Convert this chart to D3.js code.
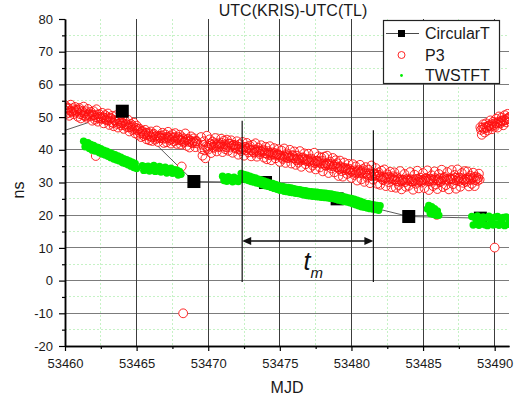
<!DOCTYPE html>
<html>
<head>
<meta charset="utf-8">
<script src="https://cdn.jsdelivr.net/npm/d3@7"></script>
<style>
  html, body { margin: 0; padding: 0; background: #fff; }
  svg { display: block; font-family: Arial, "Liberation Sans", sans-serif; }
</style>
</head>
<body>
<svg id="chart" width="516" height="400"></svg>
<script>
// ---- Data (MJD vs ns) ----
const sampleStep = 0.1; // spacing of the dense P3 / TWSTFT samples, in days

// Circular T monthly link values
const circularMjd = [53459, 53464, 53469, 53474, 53479, 53484, 53489];
const circularNs  = [44.5, 51.8, 30.3, 30.0, 25.0, 19.6, 19.1];

// P3 (GPS code) results, three runs; each run has a second track
// offset by half a sample step
const p3StartA = 53460.0;
const p3A = [
  53.6, 51.0, 52.9, 50.4, 53.8, 51.7, 50.9, 53.1, 52.2, 50.1,
  52.8, 49.6, 51.9, 53.2, 50.3, 49.8, 52.5, 50.7, 51.6, 48.9,
  51.8, 49.2, 52.4, 48.6, 50.9, 49.7, 51.3, 48.1, 50.6, 49.0,
  51.1, 47.6, 49.8, 50.4, 47.2, 48.9, 50.6, 46.8, 49.3, 47.5,
  49.9, 46.4, 48.7, 47.0, 49.2, 45.6, 47.9, 46.1, 48.3, 45.0,
  47.4, 44.6, 46.5, 43.9, 45.8, 44.2, 46.1, 43.2, 45.3, 42.9,
  45.6, 42.7, 44.9, 43.1, 45.9, 42.4, 44.3, 43.6, 45.2, 42.1,
  44.7, 42.3, 45.5, 43.0, 41.9, 44.8, 42.6, 45.1, 41.8, 43.9,
  44.6, 41.6, 43.8, 42.2, 45.0, 41.2, 43.4, 40.7, 44.1, 42.0,
  43.5, 40.8, 42.6
];
const p3A2 = [
  51.9, 52.6, 51.3, 52.0, 51.6, 52.7, 52.1, 51.4, 51.8, 52.3,
  50.9, 51.5, 50.6, 51.2, 51.8, 50.5, 51.0, 50.2, 50.9, 50.6,
  50.5, 49.9, 50.8, 49.6, 50.1, 49.4, 50.0, 49.7, 49.3, 49.9,
  49.0, 49.6, 48.5, 48.2, 49.1, 48.6, 47.9, 48.8, 48.1, 48.4,
  48.2, 47.5, 47.9, 47.7, 46.9, 47.4, 46.8, 47.2, 46.3, 46.7,
  45.9, 46.3, 45.1, 45.6, 45.0, 44.7, 45.2, 44.4, 44.8, 44.1,
  43.8, 44.5, 43.9, 44.2, 43.5, 44.0, 43.7, 44.4, 43.4, 43.8,
  43.4, 44.0, 43.6, 44.2, 43.3, 43.7, 43.9, 43.0, 43.5, 42.9,
  43.1, 42.7, 43.3, 42.5, 42.9, 43.2, 42.4, 42.8, 42.2, 42.6,
  42.1, 42.7, 41.9
];
const p3StartB = 53469.5;
const p3B = [
  43.9, 38.2, 42.6, 37.4, 44.3,
  40.1, 43.2, 39.0, 42.5, 40.6, 43.6, 39.5, 42.0, 41.1, 43.4,
  39.3, 42.8, 40.2, 43.1, 39.7, 41.9, 42.9, 39.1, 41.5, 40.4,
  42.6, 38.5, 41.7, 39.6, 42.4, 38.2, 40.9, 42.1, 39.2, 41.3,
  38.0, 41.5, 39.1, 42.0, 37.9, 40.6, 38.7, 41.4, 39.8, 37.6,
  40.9, 37.1, 39.6, 41.1, 36.8, 39.2, 40.5, 37.4, 38.6, 40.2,
  36.3, 39.8, 37.2, 40.4, 36.0, 38.9, 37.5, 40.0, 35.8, 38.3,
  39.5, 35.4, 38.2, 36.1, 39.6, 34.8, 37.7, 38.9, 35.6, 37.0,
  38.8, 34.5, 37.3, 35.2, 39.1, 34.0, 36.7, 38.0, 34.6, 37.6,
  33.4, 37.9, 35.1, 38.2, 32.9, 36.4, 34.3, 37.5, 33.1, 36.8,
  35.9, 32.0, 36.7, 33.5, 31.8, 36.1, 34.2, 32.6, 35.7, 33.0,
  31.4, 35.6, 32.3, 34.9, 30.6, 33.8, 35.4, 31.0, 34.1, 30.2,
  34.7, 31.5, 33.9, 29.8, 35.2, 30.9, 32.8, 34.4, 29.6, 33.1,
  29.3, 33.6, 30.7, 34.0, 28.9, 32.5, 30.1, 33.3, 28.6, 31.9,
  33.1, 28.4, 31.6, 29.2, 33.5, 27.9, 30.8, 32.6, 28.7, 31.2,
  29.0, 33.2, 30.3, 27.8, 32.4, 29.6, 33.6, 28.2, 31.5, 30.0,
  32.9, 28.3, 31.4, 33.7, 27.7, 30.5, 32.2, 28.9, 33.4, 29.4,
  28.0, 32.6, 30.1, 33.9, 28.6, 31.7, 29.2, 33.2, 27.9, 31.0,
  33.8, 29.5, 32.3, 28.1, 34.0, 30.4, 28.7, 32.9, 29.9, 33.5,
  30.2, 33.4, 28.8, 32.1, 29.6, 33.0, 28.9, 31.8, 30.5, 32.7
];
const p3B2 = [
  40.2, 41.5, 39.8, 41.0, 40.6,
  41.2, 41.9, 41.5, 40.9, 42.0, 41.3, 41.7, 40.8, 41.6, 42.1,
  41.0, 41.6, 40.8, 41.4, 41.9, 40.7, 41.2, 41.5, 40.9, 41.3,
  40.3, 40.9, 40.1, 40.6, 40.2, 40.8, 39.9, 40.4, 40.7, 40.0,
  39.8, 39.3, 40.0, 39.5, 39.9, 39.2, 39.7, 39.4, 40.1, 39.0,
  38.9, 38.5, 39.1, 38.3, 38.8, 38.6, 39.0, 38.2, 38.7, 38.4,
  38.2, 37.6, 38.1, 37.8, 38.4, 37.5, 38.0, 37.7, 38.3, 37.4,
  37.3, 36.8, 37.4, 37.0, 36.7, 37.5, 36.9, 37.2, 36.6, 37.1,
  36.5, 36.1, 36.8, 36.3, 35.9, 36.6, 36.2, 36.4, 35.8, 36.7,
  35.8, 35.3, 35.9, 35.4, 35.7, 35.1, 35.6, 35.0, 35.5, 34.8,
  34.6, 34.1, 34.9, 34.3, 34.5, 33.8, 34.4, 33.9, 34.2, 33.6,
  33.5, 33.0, 33.7, 32.9, 33.4, 32.8, 33.2, 33.6, 32.7, 33.1,
  32.6, 32.1, 32.8, 32.3, 31.9, 32.7, 32.2, 32.5, 31.8, 32.3,
  31.6, 31.1, 31.8, 31.3, 31.5, 30.9, 31.7, 31.2, 31.4, 30.8,
  30.9, 30.4, 31.0, 30.2, 30.7, 30.5, 30.9, 30.1, 30.6, 30.8,
  30.5, 31.0, 30.3, 30.9, 30.6, 31.1, 30.2, 30.8, 30.4, 30.7,
  31.0, 30.6, 31.2, 30.4, 30.9, 31.1, 30.5, 30.8, 31.3, 30.7,
  30.7, 31.2, 30.5, 31.0, 31.4, 30.6, 31.1, 30.8, 31.3, 30.9,
  31.2, 30.8, 31.4, 30.6, 31.1, 31.5, 30.9, 31.3, 30.7, 31.0,
  31.3, 30.9, 31.5, 30.8, 31.2, 31.6, 30.7, 31.1, 31.4, 30.9
];
const p3StartC = 53489.0;
const p3C = [
  46.9, 44.6, 47.8, 45.3, 48.1, 45.9, 47.2, 49.0, 46.3, 48.6,
  47.0, 49.5, 46.8, 50.2, 48.1, 49.9, 47.5, 50.6, 48.4, 51.0,
  49.3
];
const p3C2 = [
  46.1, 46.8, 46.4, 47.0, 46.7, 47.3, 47.6, 47.1, 47.9, 47.5,
  48.2, 48.0, 48.6, 48.3, 48.9, 48.7, 49.2, 49.0, 49.5, 49.8,
  50.1
];
// isolated P3 points away from the main band
const p3OutlierMjd = [53462.15, 53462.25, 53468.15, 53468.25, 53485.95, 53490.0];
const p3OutlierNs  = [38.1, 40.0, 34.9, -10.0, 20.1, 10.1];

// TWSTFT sessions
const twStarts = [53461.3, 53465.4, 53471.0, 53472.3, 53475.2, 53485.3, 53488.4];
const twA = [
  42.6, 40.9, 41.9, 42.2, 40.4, 41.6, 39.9, 41.3, 39.6, 40.8,
  40.7, 39.1, 40.3, 38.7, 39.9, 38.4, 39.6, 38.0, 39.2, 37.6,
  38.8, 37.2, 38.5, 36.9, 38.1, 36.6, 37.7, 36.1, 37.3, 35.8,
  37.0, 35.4, 36.6, 35.0, 36.2, 34.6, 35.8, 34.3
];
const twB = [
  35.1, 33.7, 34.8, 33.9, 35.0, 33.5, 34.6, 33.8, 35.2, 33.4,
  34.5, 33.6, 34.9, 33.2, 34.3, 33.5, 34.7, 32.9, 34.1, 33.3,
  34.4, 32.8, 33.9, 33.0, 33.8, 32.3, 33.4, 32.5
];
const twC = [31.9, 30.6, 31.5, 30.4, 31.8, 30.7, 31.3, 30.2, 31.6, 30.5, 31.2, 30.3, 31.4];
const twD = [
  32.8, 31.2, 32.5, 30.9, 32.2, 30.6, 31.9, 30.3, 31.6, 30.1,
  31.4, 29.8, 31.0, 29.6, 30.8, 29.3, 30.5, 29.0, 30.2, 28.8,
  29.9, 28.5, 29.7, 28.2, 29.4, 27.9, 29.1, 27.6
];
const twE = [
  28.8, 27.3, 28.6, 27.2, 28.5, 27.0, 28.3, 26.9, 28.1, 26.7,
  27.9, 26.6, 27.8, 26.4, 27.6, 26.2, 27.5, 26.0, 27.3, 25.9,
  27.2, 25.8, 27.1, 25.7, 27.0, 25.6, 26.9, 25.5, 26.8, 25.4,
  26.7, 25.3, 26.6, 25.2, 26.5, 25.1, 26.3, 24.9, 26.1, 24.6,
  25.9, 24.4, 25.7, 24.2, 25.5, 24.0, 25.3, 23.8, 25.1, 23.5,
  24.9, 23.2, 24.6, 22.9, 24.3, 22.6, 24.0, 22.4, 23.6, 22.2,
  23.5, 22.0, 23.3, 21.9, 23.1, 21.7, 23.0, 21.5, 22.9
];
const twF = [21.9, 23.0, 20.5, 22.6, 20.3, 22.0, 20.0, 21.3, 20.0];
const twG = [
  19.6, 17.0, 19.3, 17.4, 19.8, 16.9, 18.9, 17.6, 19.5, 17.1,
  19.2, 16.8, 19.7, 17.5, 18.8, 17.0, 19.4, 17.3, 19.6, 16.9,
  19.0, 17.6, 19.3, 16.8, 19.5, 17.2, 18.9
];

// Axis ticks
const xMajorTicks = [53460, 53465, 53470, 53475, 53480, 53485, 53490];
const xMinorTicks = [53462.5, 53467.5, 53472.5, 53477.5, 53482.5, 53487.5];
const yMajorTicks = [-20, -10, 0, 10, 20, 30, 40, 50, 60, 70, 80];
const yMinorTicks = [-15, -5, 5, 15, 25, 35, 45, 55, 65, 75];

// Measurement-interval marker (t_m)
const tmStartMjd = 53472.37, tmEndMjd = 53481.53;
const tmStartTopNs = 48.9, tmEndTopNs = 46.0, tmBaseNs = -0.4;
const tmArrowNs = 12.1;
const tmLabelMjd = 53476.65, tmLabelNs = 3.3;

// ---- Helpers ----
function expand(start, vals) {
  return vals.map((v, i) => ({ mjd: +(start + i * sampleStep).toFixed(3), ns: v }));
}
const half = sampleStep / 2;

const p3Points = [
  ...expand(p3StartA, p3A), ...expand(p3StartA + half, p3A2),
  ...expand(p3StartB, p3B), ...expand(p3StartB + half, p3B2),
  ...expand(p3StartC, p3C), ...expand(p3StartC + half, p3C2),
  ...p3OutlierMjd.map((m, i) => ({ mjd: m, ns: p3OutlierNs[i] }))
].sort((a, b) => a.mjd - b.mjd);
const twPoints = [twA, twB, twC, twD, twE, twF, twG]
  .flatMap((seg, i) => expand(twStarts[i], seg));
const circularPoints = circularMjd.map((m, i) => ({ mjd: m, ns: circularNs[i] }));

// ---- Scales ----
const x = d3.scaleLinear().domain([53460, 53491]).range([65, 509]);
const y = d3.scaleLinear().domain([-20, 80]).range([346, 19]);
const [x0, x1] = x.range();
const [yB, yT] = y.range();

const svg = d3.select("#chart");

svg.append("defs").append("clipPath").attr("id", "plotClip")
  .append("rect").attr("x", x0).attr("y", yT).attr("width", x1 - x0).attr("height", yB - yT);

// ---- Grid ----
const grid = svg.append("g").attr("shape-rendering", "crispEdges");
grid.selectAll("line.hmin").data(yMinorTicks).join("line")
  .attr("x1", x0).attr("x2", x1).attr("y1", d => y(d)).attr("y2", d => y(d))
  .attr("stroke", "#c6f2c6").attr("stroke-dasharray", "2,2");
grid.selectAll("line.vmin").data(xMinorTicks).join("line")
  .attr("x1", d => x(d)).attr("x2", d => x(d)).attr("y1", yT).attr("y2", yB)
  .attr("stroke", "#c6f2c6").attr("stroke-dasharray", "2,2");
grid.selectAll("line.hmaj").data(yMajorTicks.filter(d => d > -20 && d < 80)).join("line")
  .attr("x1", x0).attr("x2", x1).attr("y1", d => y(d)).attr("y2", d => y(d))
  .attr("stroke", "#7c7c7c");
grid.selectAll("line.vmaj").data(xMajorTicks.filter(d => d > 53460)).join("line")
  .attr("x1", d => x(d)).attr("x2", d => x(d)).attr("y1", yT).attr("y2", yB)
  .attr("stroke", "#3c3c3c");

// ---- Series ----
const plot = svg.append("g").attr("clip-path", "url(#plotClip)");

// Circular T connecting line
plot.append("path")
  .datum(circularPoints)
  .attr("d", d3.line().x(d => x(d.mjd)).y(d => y(d.ns)))
  .attr("fill", "none").attr("stroke", "#333").attr("stroke-width", 0.8);

// P3 open circles: white interiors first, then every outline on top
const p3r = 4.4;
plot.append("g").selectAll("circle").data(p3Points).join("circle")
  .attr("cx", d => x(d.mjd)).attr("cy", d => y(d.ns)).attr("r", p3r)
  .attr("fill", "#fff");
plot.append("g").selectAll("circle").data(p3Points).join("circle")
  .attr("cx", d => x(d.mjd)).attr("cy", d => y(d.ns)).attr("r", p3r)
  .attr("fill", "none").attr("stroke", "#ff1010").attr("stroke-width", 0.9);

// Circular T squares
const sq = 13;
plot.append("g").selectAll("rect").data(circularPoints).join("rect")
  .attr("x", d => x(d.mjd) - sq / 2).attr("y", d => y(d.ns) - sq / 2)
  .attr("width", sq).attr("height", sq).attr("fill", "#000");

// TWSTFT dots
plot.append("g").selectAll("circle").data(twPoints).join("circle")
  .attr("cx", d => x(d.mjd)).attr("cy", d => y(d.ns)).attr("r", 3.7)
  .attr("fill", "#00ee00");

// ---- t_m marker ----
const ann = svg.append("g");
ann.append("line")
  .attr("x1", x(tmStartMjd)).attr("x2", x(tmStartMjd))
  .attr("y1", y(tmStartTopNs)).attr("y2", y(tmBaseNs))
  .attr("stroke", "#111").attr("stroke-width", 1.2);
ann.append("line")
  .attr("x1", x(tmEndMjd)).attr("x2", x(tmEndMjd))
  .attr("y1", y(tmEndTopNs)).attr("y2", y(tmBaseNs))
  .attr("stroke", "#111").attr("stroke-width", 1.2);
const ay = y(tmArrowNs), axL = x(tmStartMjd), axR = x(tmEndMjd);
ann.append("line").attr("x1", axL + 6).attr("x2", axR - 6).attr("y1", ay).attr("y2", ay)
  .attr("stroke", "#111").attr("stroke-width", 1.5);
ann.append("path").attr("d", `M${axL},${ay}L${axL + 9},${ay - 4}L${axL + 9},${ay + 4}Z`).attr("fill", "#111");
ann.append("path").attr("d", `M${axR},${ay}L${axR - 9},${ay - 4}L${axR - 9},${ay + 4}Z`).attr("fill", "#111");
const tm = ann.append("text").attr("x", x(tmLabelMjd)).attr("y", y(tmLabelNs))
  .attr("font-style", "italic").attr("fill", "#111");
tm.append("tspan").attr("font-size", 25).text("t");
tm.append("tspan").attr("font-size", 15).attr("dx", 0).attr("dy", 8).text("m");

// ---- Axes ----
const fmt = d => String(d);
const axisStyle = g => {
  g.attr("font-size", 13).attr("font-family", "Arial, 'Liberation Sans', sans-serif");
  g.select(".domain").attr("stroke", "#000").attr("stroke-width", 1.5);
  g.selectAll(".tick line").attr("stroke", "#000").attr("stroke-width", 1.2);
  g.selectAll(".tick text").attr("fill", "#1a1a1a");
};
svg.append("g").attr("transform", `translate(0,${yB})`)
  .call(d3.axisBottom(x).tickValues(xMinorTicks).tickSize(3).tickSizeOuter(0).tickFormat(""))
  .call(axisStyle);
svg.append("g").attr("transform", `translate(0,${yB})`)
  .call(d3.axisBottom(x).tickValues(xMajorTicks).tickSize(5).tickPadding(8).tickSizeOuter(0).tickFormat(fmt))
  .call(axisStyle);
svg.append("g").attr("transform", `translate(${x0},0)`)
  .call(d3.axisLeft(y).tickValues(yMinorTicks).tickSize(3).tickSizeOuter(0).tickFormat(""))
  .call(axisStyle);
svg.append("g").attr("transform", `translate(${x0},0)`)
  .call(d3.axisLeft(y).tickValues(yMajorTicks).tickSize(6).tickPadding(6).tickSizeOuter(0).tickFormat(fmt))
  .call(axisStyle);

// ---- Titles ----
svg.append("text").attr("x", 293).attr("y", 15.5).attr("text-anchor", "middle")
  .attr("font-size", 16).attr("fill", "#1a1a1a").text("UTC(KRIS)-UTC(TL)");
svg.append("text").attr("x", 287).attr("y", 393).attr("text-anchor", "middle")
  .attr("font-size", 16).attr("fill", "#1a1a1a").text("MJD");
svg.append("text").attr("transform", "translate(24,190) rotate(-90)").attr("text-anchor", "middle")
  .attr("font-size", 16).attr("fill", "#1a1a1a").text("ns");

// ---- Legend ----
const lg = svg.append("g");
lg.append("rect").attr("x", 383.5).attr("y", 20.5).attr("width", 116).attr("height", 63)
  .attr("fill", "#fff").attr("stroke", "#222").attr("stroke-width", 1.2);
const symX = 401.5, textX = 425;
lg.append("line").attr("x1", 386).attr("x2", 419).attr("y1", 33.5).attr("y2", 33.5)
  .attr("stroke", "#333").attr("stroke-width", 0.9);
lg.append("rect").attr("x", symX - 3.5).attr("y", 30).attr("width", 7).attr("height", 7).attr("fill", "#000");
lg.append("circle").attr("cx", symX).attr("cy", 55).attr("r", 3.5)
  .attr("fill", "#fff").attr("stroke", "#ff1010").attr("stroke-width", 0.9);
lg.append("circle").attr("cx", symX).attr("cy", 75.5).attr("r", 1.4).attr("fill", "#00ee00");
const legendNames = ["CircularT", "P3", "TWSTFT"];
const legendBase = [39, 60.5, 80.5];
lg.selectAll("text.lbl").data(legendNames).join("text")
  .attr("x", textX).attr("y", (d, i) => legendBase[i])
  .attr("font-size", 16).attr("fill", "#1a1a1a").text(d => d);
</script>
</body>
</html>
